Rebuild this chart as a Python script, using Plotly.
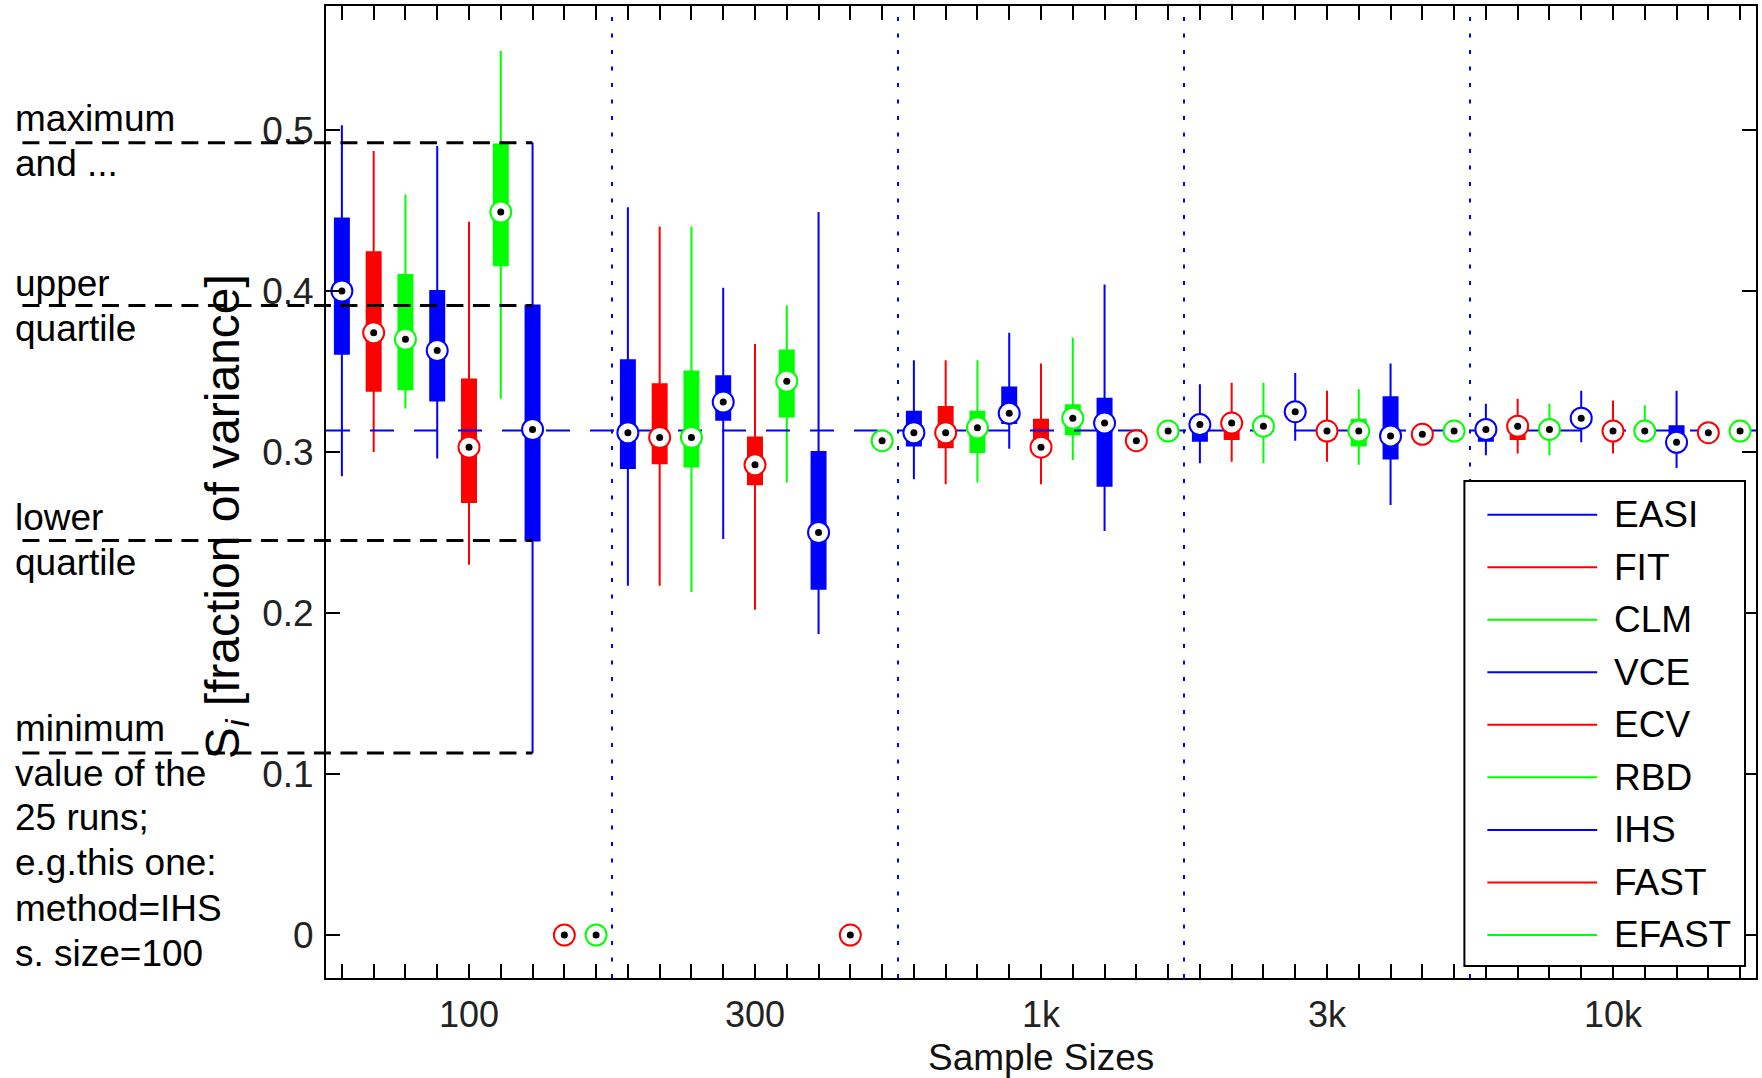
import plotly.graph_objects as go

# ---------------- data ----------------
methods = ["EASI", "FIT", "CLM", "VCE", "ECV", "RBD", "IHS", "FAST", "EFAST"]
method_colors = ["#0000ff", "#ff0000", "#00ff00",
                 "#0000ff", "#ff0000", "#00ff00",
                 "#0000ff", "#ff0000", "#00ff00"]
sample_sizes = ["100", "300", "1k", "3k", "10k"]

# rows = sample sizes, columns = methods; None -> only the median marker is drawn
whisker_high = [
    [0.503, 0.487, 0.460, 0.490, 0.443, 0.549, 0.492, None, None],
    [0.452, 0.440, 0.440, 0.402, 0.367, 0.391, 0.449, None, None],
    [0.357, 0.357, 0.357, 0.374, 0.355, 0.371, 0.404, None, None],
    [0.342, 0.343, 0.343, 0.349, 0.338, 0.339, 0.355, None, None],
    [0.330, 0.333, 0.330, 0.338, 0.332, 0.329, 0.338, None, None],
]
q3 = [
    [0.445, 0.424, 0.410, 0.400, 0.345, 0.491, 0.391, None, None],
    [0.357, 0.342, 0.350, 0.347, 0.309, 0.363, 0.300, None, None],
    [0.325, 0.328, 0.325, 0.340, 0.320, 0.329, 0.333, None, None],
    [0.318, 0.319, 0.320, 0.328, 0.316, 0.320, 0.334, None, None],
    [0.316, 0.318, 0.317, 0.323, 0.317, 0.316, 0.316, None, None],
]
median = [
    [0.400, 0.374, 0.370, 0.363, 0.303, 0.449, 0.314, 0.000, 0.000],
    [0.312, 0.309, 0.309, 0.331, 0.292, 0.344, 0.250, 0.000, 0.307],
    [0.312, 0.312, 0.315, 0.324, 0.303, 0.321, 0.318, 0.307, 0.313],
    [0.317, 0.318, 0.316, 0.325, 0.313, 0.313, 0.310, 0.311, 0.313],
    [0.314, 0.316, 0.314, 0.321, 0.313, 0.313, 0.306, 0.312, 0.313],
]
q1 = [
    [0.361, 0.338, 0.339, 0.332, 0.269, 0.416, 0.245, None, None],
    [0.290, 0.293, 0.291, 0.320, 0.280, 0.322, 0.215, None, None],
    [0.304, 0.303, 0.300, 0.318, 0.301, 0.311, 0.279, None, None],
    [0.307, 0.308, 0.311, 0.321, 0.308, 0.304, 0.296, None, None],
    [0.307, 0.308, 0.311, 0.317, 0.309, 0.310, 0.303, None, None],
]
whisker_low = [
    [0.285, 0.300, 0.327, 0.296, 0.230, 0.333, 0.113, None, None],
    [0.217, 0.217, 0.213, 0.246, 0.202, 0.281, 0.187, None, None],
    [0.283, 0.280, 0.281, 0.302, 0.280, 0.295, 0.251, None, None],
    [0.293, 0.294, 0.293, 0.307, 0.294, 0.292, 0.267, None, None],
    [0.298, 0.299, 0.298, 0.306, 0.299, 0.308, 0.290, None, None],
]
true_value = 0.3134
y_ticks = [0, 0.1, 0.2, 0.3, 0.4, 0.5]
example = ("IHS", "100")   # the box explained by the side notes

# ---------------- layout constants ----------------
W, H = 1762, 1078
ML, MR, MT, MB = 326, 4, 6, 100
FONT = "Liberation Sans, Arial, Helvetica, sans-serif"
n_m = len(methods)
n_s = len(sample_sizes)
x_range = [-0.5, n_m * n_s - 0.5]
y_range = [-0.0267, 0.577]
PW, PH = W - ML - MR, H - MT - MB


def px2paper_x(px):
    return (px - ML) / PW


def px2paper_y(py):
    return (H - MB - py) / PH


def val2paper_x(v):
    return (v - x_range[0]) / (x_range[1] - x_range[0])


def val2paper_y(v):
    return (v - y_range[0]) / (y_range[1] - y_range[0])


def pos(si, mi):
    return si * n_m + mi


fig = go.Figure()

# boxes (compact MATLAB style: thick box, thin whiskers)
for mi, m in enumerate(methods):
    xs, a, b, c, d, e = [], [], [], [], [], []
    for si in range(n_s):
        if q1[si][mi] is None:
            continue
        xs.append(pos(si, mi))
        a.append(whisker_low[si][mi]); b.append(q1[si][mi]); c.append(median[si][mi])
        d.append(q3[si][mi]); e.append(whisker_high[si][mi])
    if not xs:
        continue
    col = method_colors[mi]
    fig.add_trace(go.Box(x=xs, lowerfence=a, q1=b, median=c, q3=d, upperfence=e,
                         name=m, fillcolor=col, line=dict(color=col, width=2),
                         width=0.44, whiskerwidth=0, boxpoints=False,
                         showlegend=False, hoverinfo="skip"))

# reference (true) value line
fig.add_trace(go.Scatter(x=x_range, y=[true_value, true_value], mode="lines",
                         line=dict(color="#0000ff", width=2, dash="24px,20px"),
                         showlegend=False, hoverinfo="skip"))

# median markers: coloured ring with white inside
for mi, m in enumerate(methods):
    fig.add_trace(go.Scatter(
        x=[pos(si, mi) for si in range(n_s)],
        y=[median[si][mi] for si in range(n_s)],
        mode="markers", name=m,
        marker=dict(symbol="circle", size=21, color="white",
                    line=dict(color=method_colors[mi], width=2)),
        showlegend=False, hoverinfo="skip"))
# black centre dots
fig.add_trace(go.Scatter(
    x=[pos(si, mi) for si in range(n_s) for mi in range(n_m)],
    y=[median[si][mi] for si in range(n_s) for mi in range(n_m)],
    mode="markers", marker=dict(symbol="circle", size=7, color="black"),
    showlegend=False, hoverinfo="skip"))

shapes = []
# dotted separators between sample-size groups
for si in range(1, n_s):
    xv = si * n_m - 0.5
    shapes.append(dict(type="line", xref="x", yref="paper", x0=xv, x1=xv, y0=0, y1=1,
                       line=dict(color="#0000ff", width=2, dash="4px,12.5px"),
                       layer="below"))

# explanatory dashed lines to the example box
ex_si = sample_sizes.index(example[1])
ex_mi = methods.index(example[0])
ex_x = val2paper_x(pos(ex_si, ex_mi))
for stat in (whisker_high, q3, q1, whisker_low):
    yv = val2paper_y(stat[ex_si][ex_mi])
    shapes.append(dict(type="line", xref="paper", yref="paper",
                       x0=px2paper_x(22), x1=ex_x, y0=yv, y1=yv,
                       line=dict(color="black", width=3, dash="17px,9.5px"),
                       layer="above"))

annotations = []
side_notes = [
    ("maximum", 118), ("and ...", 164),
    ("upper", 283), ("quartile", 328),
    ("lower", 517), ("quartile", 562),
    ("minimum", 728), ("value of the", 773), ("25 runs;", 817),
    ("e.g.this one:", 862), ("method=IHS", 908), ("s. size=100", 953),
]
for txt, py in side_notes:
    annotations.append(dict(text=txt, xref="paper", yref="paper",
                            x=px2paper_x(13), y=px2paper_y(py),
                            xanchor="left", yanchor="middle", showarrow=False,
                            font=dict(family=FONT, size=37, color="black")))

# axis titles
annotations.append(dict(text="S<sub><i>i</i></sub> [fraction of variance]",
                        xref="paper", yref="paper", x=px2paper_x(226),
                        y=px2paper_y(517), textangle=-90, xanchor="center",
                        yanchor="middle", showarrow=False,
                        font=dict(family=FONT, size=48, color="black")))
annotations.append(dict(text="Sample Sizes", xref="paper", yref="paper",
                        x=0.5, y=px2paper_y(1057), xanchor="center",
                        yanchor="middle", showarrow=False,
                        font=dict(family=FONT, size=37, color="#111111")))

# legend box (drawn in paper space, MATLAB style)
LEG_L, LEG_R, LEG_T, LEG_B = 1466, 1747, 481, 966
shapes.append(dict(type="rect", xref="paper", yref="paper",
                   x0=px2paper_x(LEG_L), x1=px2paper_x(LEG_R),
                   y0=px2paper_y(LEG_B), y1=px2paper_y(LEG_T),
                   line=dict(color="black", width=2), fillcolor="white",
                   layer="above"))
row0, row_step = 514.7, 52.53
for mi, m in enumerate(methods):
    yy = px2paper_y(row0 + mi * row_step)
    shapes.append(dict(type="line", xref="paper", yref="paper",
                       x0=px2paper_x(1489), x1=px2paper_x(1599), y0=yy, y1=yy,
                       line=dict(color=method_colors[mi], width=2), layer="above"))
    annotations.append(dict(text=m, xref="paper", yref="paper",
                            x=px2paper_x(1614), y=yy, xanchor="left",
                            yanchor="middle", showarrow=False,
                            font=dict(family=FONT, size=37, color="black")))

# x ticks: minor tick at every box, labels at the middle of each group
x_label_pos = [pos(si, n_m // 2) for si in range(n_s)]

fig.update_layout(
    width=W, height=H,
    margin=dict(l=ML, r=MR, t=MT, b=MB, pad=0),
    paper_bgcolor="white", plot_bgcolor="white",
    showlegend=False,
    xaxis=dict(range=x_range, tickmode="array", tickvals=x_label_pos,
               ticktext=sample_sizes, ticks="inside", ticklen=14, tickwidth=1.5,
               tickcolor="black", showline=True, linecolor="black", linewidth=2,
               mirror="ticks", showgrid=False, zeroline=False,
               ticklabelstandoff=4,
               minor=dict(tickmode="linear", tick0=0, dtick=1, ticks="inside",
                          ticklen=14, tickwidth=1.5, tickcolor="black",
                          showgrid=False),
               tickfont=dict(family=FONT, size=36, color="#222222")),
    yaxis=dict(range=y_range, tickmode="array", tickvals=y_ticks,
               ticktext=[("%g" % v) for v in y_ticks], ticks="inside",
               ticklen=14, tickwidth=1.5, tickcolor="black", showline=True,
               linecolor="black", linewidth=2, mirror="ticks", showgrid=False,
               zeroline=False, ticklabelstandoff=3,
               tickfont=dict(family=FONT, size=37, color="#222222")),
    shapes=shapes, annotations=annotations,
)

fig.write_html("out.html")
